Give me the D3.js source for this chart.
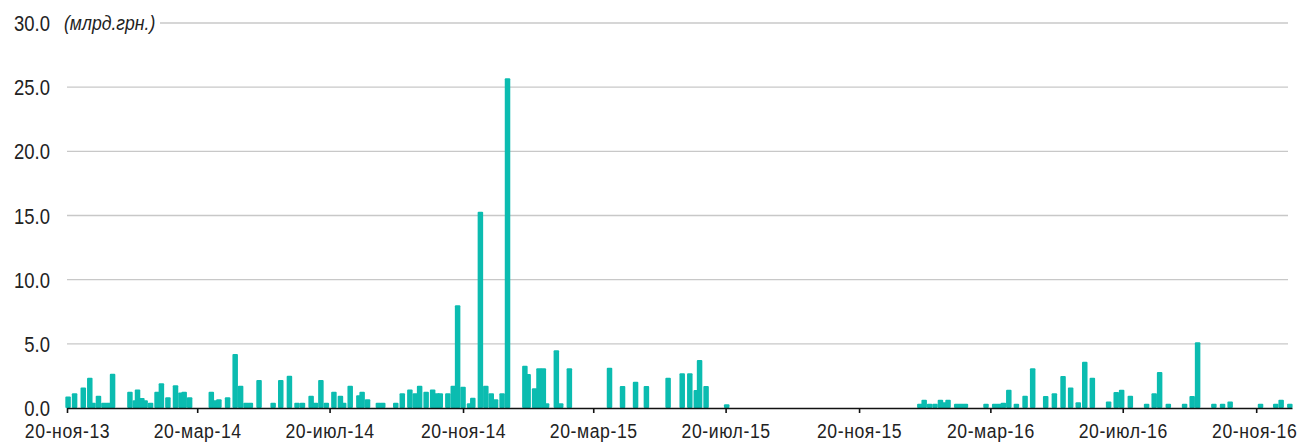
<!DOCTYPE html>
<html lang="ru">
<head>
  <meta charset="UTF-8">
  <title>Bars</title>
  <script src="https://d3js.org/d3.v7.min.js"></script>
  <style>
    body { margin: 0; background: #fff; }
    svg { display: block; }
    .lbl { font-family: "Liberation Sans", Arial, sans-serif; font-size: 22px; fill: #222; }
  </style>
</head>
<body>
  <svg id="chart" width="1302" height="443"></svg>
  <script>
    // dates of each bar and value, млрд. грн.
    const dates = [
      '2013-11-21','2013-11-27','2013-12-05','2013-12-11','2013-12-14','2013-12-19','2013-12-24','2013-12-28',
      '2014-01-01','2014-01-17','2014-01-22','2014-01-24','2014-01-28','2014-01-31','2014-02-05','2014-02-11',
      '2014-02-15','2014-02-21','2014-02-28','2014-03-05','2014-03-08','2014-03-13',
      '2014-04-02','2014-04-06','2014-04-09','2014-04-17','2014-04-24','2014-04-29','2014-05-04','2014-05-08',
      '2014-05-16','2014-05-29','2014-06-05','2014-06-13','2014-06-20','2014-06-25','2014-07-03','2014-07-07',
      '2014-07-12','2014-07-17','2014-07-24','2014-07-30','2014-08-02','2014-08-08','2014-08-16','2014-08-19',
      '2014-08-24','2014-09-03','2014-09-07','2014-09-19','2014-09-25','2014-10-02','2014-10-07','2014-10-11',
      '2014-10-17','2014-10-23','2014-10-27','2014-10-30','2014-11-06','2014-11-11','2014-11-15','2014-11-20',
      '2014-11-26','2014-11-29','2014-12-06','2014-12-11','2014-12-16','2014-12-20','2014-12-26','2014-12-31',
      '2015-01-16','2015-01-19','2015-01-25','2015-01-29','2015-02-02','2015-02-05','2015-02-14','2015-02-18',
      '2015-02-26','2015-04-04','2015-04-16','2015-04-28','2015-05-08','2015-05-28','2015-06-10','2015-06-17',
      '2015-06-23','2015-06-26','2015-07-02','2015-07-21',
      '2016-01-15','2016-01-19','2016-01-24','2016-01-29','2016-02-03','2016-02-06','2016-02-10','2016-02-18',
      '2016-02-22','2016-02-26','2016-03-16','2016-03-24','2016-03-28','2016-04-01','2016-04-06','2016-04-13',
      '2016-04-21','2016-04-28','2016-05-10','2016-05-18','2016-05-26','2016-06-02','2016-06-09','2016-06-15',
      '2016-06-22','2016-07-07','2016-07-14','2016-07-19','2016-07-27','2016-08-11','2016-08-18','2016-08-23',
      '2016-08-31','2016-09-15','2016-09-22','2016-09-27','2016-10-12','2016-10-20','2016-10-27','2016-11-24',
      '2016-12-08','2016-12-13','2016-12-21'
    ];
    const values = [
      0.9, 1.15, 1.6, 2.35, 0.4, 0.95, 0.4, 0.4,
      2.67, 1.27, 0.6, 1.45, 0.78, 0.6, 0.4, 1.27,
      1.92, 0.83, 1.77, 1.2, 1.27, 0.83,
      1.27, 0.6, 0.68, 0.83, 4.2, 1.74, 0.4, 0.4,
      2.18, 0.4, 2.18, 2.52, 0.4, 0.4, 0.96, 0.4,
      2.18, 0.4, 1.27, 0.96, 0.4, 1.74, 1.0, 1.27,
      0.68, 0.4, 0.4, 0.4, 1.15, 1.45, 1.15, 1.74,
      1.27, 1.45, 1.15, 1.15, 1.15, 1.74, 8.0, 1.65,
      0.37, 0.8, 15.3, 1.74, 1.15, 0.68, 1.15, 25.7,
      3.3, 2.65, 1.53, 3.1, 3.1, 0.37, 4.5, 0.37,
      3.1, 3.14, 1.71, 2.05, 1.71, 2.36, 2.7, 2.7,
      1.4, 3.74, 1.71, 0.3,
      0.33, 0.65, 0.33, 0.33, 0.65, 0.45, 0.65, 0.33,
      0.33, 0.33, 0.33, 0.33, 0.33, 0.4, 1.42, 0.33,
      0.96, 3.1, 0.93, 1.15, 2.5, 1.6, 0.45, 3.6,
      2.36, 0.5, 1.25, 1.42, 0.96, 0.33, 1.15, 2.8,
      0.33, 0.33, 0.93, 5.12, 0.33, 0.33, 0.5, 0.33,
      0.33, 0.65, 0.33
    ];
    const tickDates = ['2013-11-20','2014-03-20','2014-07-20','2014-11-20','2015-03-20',
      '2015-07-20','2015-11-20','2016-03-20','2016-07-20','2016-11-20'];
    const tickLabels = ['20-ноя-13','20-мар-14','20-июл-14','20-ноя-14','20-мар-15',
      '20-июл-15','20-ноя-15','20-мар-16','20-июл-16','20-ноя-16'];
    const yTicks = [0, 5, 10, 15, 20, 25, 30];

    const parse = d3.utcParse('%Y-%m-%d');
    const data = dates.map((d, i) => ({ date: parse(d), value: values[i] }));
    const narrow = 'scale(0.84,1)';

    const svg = d3.select('#chart');
    const x = d3.scaleUtc()
      .domain([parse('2013-11-20'), parse('2016-12-23')])
      .range([67, 1292]);
    const y = d3.scaleLinear().domain([0, 30]).range([408, 23]);

    // gridlines
    svg.append('g').selectAll('line')
      .data(yTicks.filter(t => t > 0))
      .join('line')
      .attr('x1', t => t === 30 ? 160 : 67)
      .attr('x2', 1288)
      .attr('y1', t => y(t)).attr('y2', t => y(t))
      .attr('stroke', '#c8c8c8')
      .attr('stroke-width', 1.4);

    // y labels
    svg.append('g').selectAll('g')
      .data(yTicks)
      .join('g')
      .attr('transform', t => `translate(50,${y(t) + 8})`)
      .append('text')
      .attr('class', 'lbl')
      .attr('transform', narrow)
      .attr('text-anchor', 'end')
      .text(t => t.toFixed(1));

    svg.append('g')
      .attr('transform', `translate(64,${y(30) + 7})`)
      .append('text')
      .attr('class', 'lbl')
      .attr('transform', narrow)
      .style('font-style', 'italic')
      .style('font-size', '21px')
      .text('(млрд.грн.)');

    // bars
    const bw = 5.5;
    svg.append('g').selectAll('rect')
      .data(data)
      .join('rect')
      .attr('x', d => x(d.date) - bw / 2)
      .attr('width', bw)
      .attr('y', d => y(d.value))
      .attr('height', d => y(0) - y(d.value))
      .attr('fill', '#0bbcb0')
      .attr('rx', 1);

    // x axis
    const xAxis = d3.axisBottom(x)
      .tickValues(tickDates.map(parse))
      .tickFormat((d, i) => tickLabels[i])
      .tickSizeOuter(0)
      .tickSizeInner(5)
      .tickPadding(10);
    const gx = svg.append('g')
      .attr('transform', 'translate(0,408)')
      .call(xAxis);
    gx.select('.domain').attr('stroke', '#111').attr('stroke-width', 1.6);
    gx.selectAll('.tick line').attr('stroke', '#111').attr('stroke-width', 1.6);
    gx.selectAll('.tick text')
      .attr('class', 'lbl')
      .attr('fill', '#222')
      .style('font-size', '21px')
      .attr('transform', (d, i) => (i === tickLabels.length - 1 ? 'translate(-2,0) ' : '') + narrow)
      .style('letter-spacing', '0.7px');
  </script>
</body>
</html>
